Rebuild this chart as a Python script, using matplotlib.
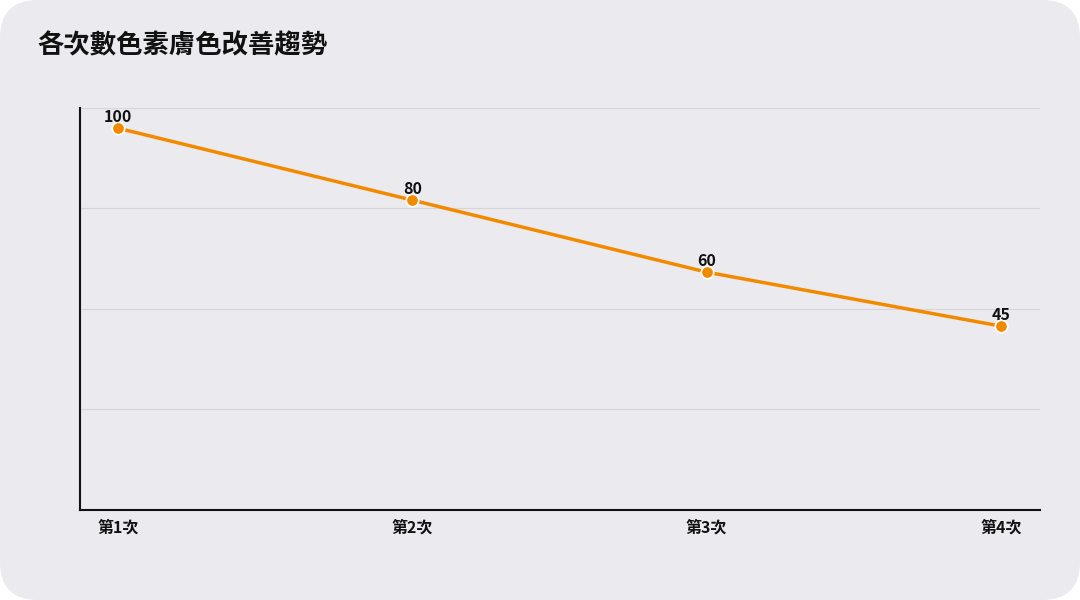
import numpy as np
import matplotlib.pyplot as plt
from matplotlib.patches import FancyBboxPatch

plt.rcParams['font.family'] = ['Noto Sans CJK TC', 'DejaVu Sans']

# data
sessions = ['第1次', '第2次', '第3次', '第4次']
scores = [100, 80, 60, 45]
title = '各次數色素膚色改善趨勢'

BG = '#ebeaef'
LINE = '#f28a00'

fig = plt.figure(figsize=(10.8, 6), dpi=100)
fig.patch.set_facecolor('white')
card = FancyBboxPatch((0, 0), 1, 1, boxstyle='round,pad=0,rounding_size=0.035',
                      transform=fig.transFigure, facecolor=BG, edgecolor='none',
                      mutation_aspect=1.8, zorder=-10)
fig.patches.append(card)

ax = fig.add_axes([80/1080, 1 - 510/600, 960/1080, 402/600])
ax.set_facecolor('none')

x = np.arange(len(sessions))
ax.plot(x, scores, color=LINE, linewidth=2.5, zorder=3)
ax.scatter(x, scores, s=80, color=LINE, edgecolor='white', linewidth=1.2, zorder=4)
for xi, v in zip(x, scores):
    ax.text(xi, v + 0.9, f'{v}', ha='center', va='bottom', fontsize=11.5,
            fontweight='bold', color='#111111', zorder=5)

lo, hi = -6.1, 105.6
ax.set_ylim(lo, hi)
ax.set_xlim(-0.129, 3.133)
ax.set_yticks(np.linspace(lo, hi, 5))
ax.set_yticklabels([])
ax.tick_params(axis='y', length=0)
ax.grid(True, axis='y', color='#d6d5da', linewidth=0.8)
ax.set_axisbelow(True)

ax.set_xticks(x)
ax.set_xticklabels(sessions, fontsize=11.5, fontweight='bold', color='#111111')
ax.tick_params(axis='x', length=0, pad=7)

for s in ['top', 'right']:
    ax.spines[s].set_visible(False)
for s in ['left', 'bottom']:
    ax.spines[s].set_color('#111111')
    ax.spines[s].set_linewidth(1.5)

fig.text(37/1080, 1 - 46/600, title, fontsize=19, fontweight='bold',
         color='#111111', ha='left', va='center')

fig.savefig('out.png', dpi=100, facecolor=fig.get_facecolor())
